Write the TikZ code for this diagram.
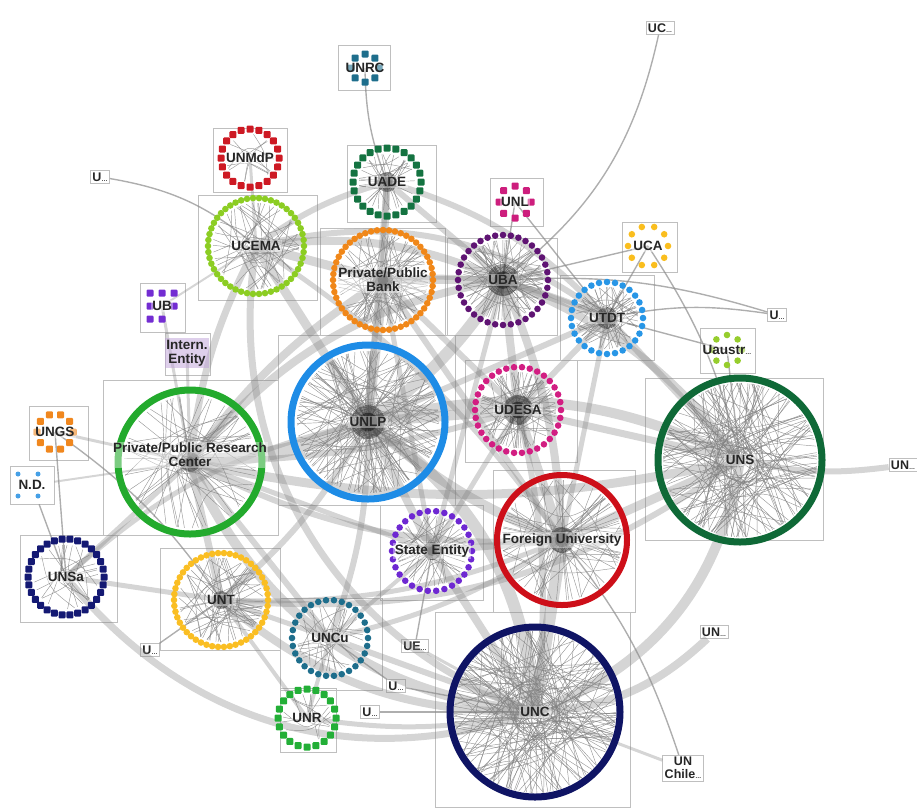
\documentclass[tikz,border=0pt]{standalone}
\usepackage{fontspec}
\setmainfont{Liberation Sans}
\definecolor{cunrc}{RGB}{30,110,140}
\definecolor{cunmdp}{RGB}{205,25,35}
\definecolor{cuade}{RGB}{20,115,65}
\definecolor{cunl}{RGB}{205,30,125}
\definecolor{cucema}{RGB}{140,205,35}
\definecolor{cbank}{RGB}{240,135,25}
\definecolor{cuba}{RGB}{95,20,115}
\definecolor{cuca}{RGB}{250,190,30}
\definecolor{cutdt}{RGB}{40,150,230}
\definecolor{cub}{RGB}{115,45,210}
\definecolor{cintern}{RGB}{190,160,215}
\definecolor{cuaustr}{RGB}{150,205,45}
\definecolor{cunlp}{RGB}{30,140,230}
\definecolor{cudesa}{RGB}{210,30,130}
\definecolor{cungs}{RGB}{240,135,30}
\definecolor{cresearch}{RGB}{35,170,45}
\definecolor{cnd}{RGB}{70,160,230}
\definecolor{cuns}{RGB}{15,105,55}
\definecolor{cforeign}{RGB}{205,15,25}
\definecolor{cstate}{RGB}{110,40,210}
\definecolor{cunsa}{RGB}{20,25,115}
\definecolor{cunt}{RGB}{250,190,35}
\definecolor{cuncu}{RGB}{30,110,140}
\definecolor{cunr}{RGB}{35,175,55}
\definecolor{cunc}{RGB}{15,20,100}
\newcommand{\trunc}{{\fontsize{6}{6}\selectfont\ldots}}
\begin{document}
\begin{tikzpicture}[x=1pt,y=-1pt,
    link/.style={draw=black!50,opacity=0.33},
    thinlink/.style={draw=black!45,opacity=0.7,line width=1.4},
    chord/.style={draw=black!50,line width=0.45,opacity=0.8},
    cbox/.style={draw=black!25,line width=0.6},
    lbl/.style={font=\bfseries\fontsize{13.5}{14}\selectfont,text=black!85,fill=white,fill opacity=0.4,text opacity=1,inner sep=1.5pt,align=center},
    sbox/.style={draw=black!25,line width=0.6,fill=white,font=\bfseries\fontsize{12.5}{13}\selectfont,text=black!85,inner sep=2pt,align=center}]
\useasboundingbox (0,0) rectangle (917,807);
\pgfmathsetseed{11}

\draw[cbox] (338,45) rectangle (390,90);
\draw[cbox] (213,128) rectangle (287,192);
\draw[cbox] (347,145) rectangle (436,222);
\draw[cbox] (490,178) rectangle (543,226);
\draw[cbox] (198,195) rectangle (317,300);
\draw[cbox] (320,228) rectangle (445,335);
\draw[cbox] (447,238) rectangle (557,335);
\draw[cbox] (622,222) rectangle (677,272);
\draw[cbox] (560,275) rectangle (654,360);
\draw[cbox] (140,283) rectangle (185,332);
\draw[cbox] (165,333) rectangle (210,375);
\draw[cbox] (700,328) rectangle (755,373);
\draw[cbox] (278,335) rectangle (455,505);
\draw[cbox] (465,360) rectangle (577,462);
\draw[cbox] (29,406) rectangle (88,460);
\draw[cbox] (103,380) rectangle (278,535);
\draw[cbox] (645,378) rectangle (823,540);
\draw[cbox] (493,470) rectangle (635,612);
\draw[cbox] (380,505) rectangle (483,600);
\draw[cbox] (20,535) rectangle (117,622);
\draw[cbox] (160,548) rectangle (280,650);
\draw[cbox] (280,598) rectangle (382,690);
\draw[cbox] (280,688) rectangle (336,752);
\draw[cbox] (435,612) rectangle (630,807);

\coordinate (unrc) at (365,68);
\coordinate (unmdp) at (250,158);
\coordinate (uade) at (387,182);
\coordinate (unl) at (515,202);
\coordinate (ucema) at (256,246);
\coordinate (bank) at (383,280);
\coordinate (uba) at (503,280);
\coordinate (uca) at (648,246);
\coordinate (utdt) at (607,318);
\coordinate (ub) at (162,306);
\coordinate (intern) at (187,353);
\coordinate (uaustr) at (727,350);
\coordinate (unlp) at (368,422);
\coordinate (udesa) at (518,410);
\coordinate (ungs) at (55,432);
\coordinate (research) at (190,462);
\coordinate (uns) at (740,460);
\coordinate (foreign) at (562,540);
\coordinate (state) at (432,551);
\coordinate (unsa) at (66,577);
\coordinate (unt) at (221,600);
\coordinate (uncu) at (330,638);
\coordinate (unr) at (307,718);
\coordinate (unc) at (535,712);

\node[sbox] (uxa) at (100,177) {U\trunc};
\node[sbox] (ucx) at (660,28) {UC\trunc};
\node[sbox] (uxb) at (777,315) {U\trunc};
\node[sbox] (unx) at (903,465) {UN\trunc};
\node[sbox] (ue) at (415,646) {UE\trunc};
\node[sbox] (uxc) at (150,650) {U\trunc};
\node[sbox] (unxb) at (714,632) {UN\trunc};
\node[sbox] (uxd) at (396,686) {U\trunc};
\node[sbox] (uxe) at (370,712) {U\trunc};
\node[sbox] (unchile) at (683,768) {UN\\Chile\trunc};
\node[sbox,minimum width=44pt,minimum height=38pt] (nd) at (32,485) {};

\draw[link,line width=14] (unlp) to[bend left=10] (research);
\draw[link,line width=12] (unlp) to[bend right=10] (uba);
\draw[link,line width=10] (unlp) to (bank);
\draw[link,line width=12] (unlp) to[bend left=25] (unc);
\draw[link,line width=10] (unlp) to[bend left=20] (uns);
\draw[link,line width=10] (unlp) to[bend right=10] (foreign);
\draw[link,line width=9] (unlp) to (ucema);
\draw[link,line width=10] (unlp) to (udesa);
\draw[link,line width=8] (unlp) to (state);
\draw[link,line width=8] (research) to[bend left=20] (uba);
\draw[link,line width=10] (research) to[bend right=30] (unc);
\draw[link,line width=9] (research) to[bend right=12] (uns);
\draw[link,line width=7] (research) to (unt);
\draw[link,line width=8] (research) to[bend left=10] (bank);
\draw[link,line width=6] (research) to[bend right=8] (udesa);
\draw[link,line width=6] (research) to[bend right=15] (foreign);
\draw[link,line width=8] (uba) to (udesa);
\draw[link,line width=7] (uba) to (utdt);
\draw[link,line width=8] (uba) to (bank);
\draw[link,line width=8] (uba) to[bend left=10] (foreign);
\draw[link,line width=8] (uba) to[bend left=15] (uns);
\draw[link,line width=8] (uba) to[bend right=15] (ucema);
\draw[link,line width=5] (uba) to (state);
\draw[link,line width=9] (udesa) to (foreign);
\draw[link,line width=7] (udesa) to (uns);
\draw[link,line width=6] (udesa) to (utdt);
\draw[link,line width=6] (udesa) to[bend left=10] (unc);
\draw[link,line width=12] (foreign) to (unc);
\draw[link,line width=9] (foreign) to (uns);
\draw[link,line width=7] (foreign) to (state);
\draw[link,line width=10] (uns) to[bend left=30] (unc);
\draw[link,line width=7] (uns) to (utdt);
\draw[link,line width=6] (uns) to[bend right=10] (unx);
\draw[link,line width=8] (unc) to[bend right=20] (unxb);
\draw[link,line width=8] (unc) to[bend left=20] (unt);
\draw[link,line width=6] (unc) to (uncu);
\draw[link,line width=5] (unc) to[bend left=10] (unr);
\draw[link,line width=7] (unc) to[bend left=35] (unsa);
\draw[link,line width=8] (unc) to (state);
\draw[link,line width=3] (unc) to (unchile);
\draw[link,line width=3] (unc) to (ue);
\draw[link,line width=5] (uncu) to (unt);
\draw[link,line width=6] (uncu) to (research);
\draw[link,line width=6] (uncu) to[bend right=10] (unlp);
\draw[link,line width=5] (uncu) to[bend right=10] (foreign);
\draw[link,line width=4] (unr) to (unt);
\draw[link,line width=4] (unr) to (uncu);
\draw[link,line width=5] (unt) to (unsa);
\draw[link,line width=6] (unt) to[bend right=20] (uns);
\draw[link,line width=6] (unt) to[bend right=10] (unlp);
\draw[link,line width=5] (unt) to[bend right=12] (foreign);
\draw[link,line width=5] (unsa) to (research);
\draw[link,line width=5] (unsa) to[bend left=15] (unlp);
\draw[link,line width=6] (ucema) to[bend left=10] (uade);
\draw[link,line width=9] (ucema) to (bank);
\draw[link,line width=7] (ucema) to[bend right=10] (research);
\draw[link,line width=7] (ucema) to[bend right=40] (unc);
\draw[link,line width=6] (ucema) to[bend left=25] (utdt);
\draw[link,line width=5] (ucema) to[bend left=10] (foreign);
\draw[link,line width=7] (bank) to (uade);
\draw[link,line width=6] (bank) to (udesa);
\draw[link,line width=6] (bank) to (foreign);
\draw[link,line width=5] (bank) to[bend left=15] (utdt);
\draw[link,line width=5] (bank) to (state);
\draw[link,line width=6] (uade) to (uba);
\draw[link,line width=6] (uade) to[bend left=15] (utdt);
\draw[link,line width=6] (uade) to (unlp);
\draw[link,line width=6] (utdt) to (unlp);
\draw[link,line width=5] (utdt) to (foreign);
\draw[link,line width=5] (state) to (research);
\draw[link,line width=5] (state) to (udesa);
\draw[link,line width=4] (state) to (uncu);
\draw[link,line width=3] (unmdp) to (ucema);
\draw[link,line width=3] (ub) to (research);
\draw[link,line width=2] (ub) to (ucema);
\draw[link,line width=3] (intern) to (research);
\draw[link,line width=3] (ungs) to (research);
\draw[link,line width=2] (nd) to (research);

\draw[thinlink] (unrc) to[bend right=10] (uade);
\draw[thinlink] (ucx) to[bend left=20] (uba);
\draw[thinlink] (uxa) to[bend left=15] (ucema);
\draw[thinlink] (uca) to (utdt);
\draw[thinlink] (uca) to[bend left=10] (uns);
\draw[thinlink] (uca) to (uba);
\draw[thinlink] (uaustr) to (uns);
\draw[thinlink] (uaustr) to (utdt);
\draw[thinlink] (uxb) to[bend right=10] (utdt);
\draw[thinlink] (uxb) to[bend right=10] (uba);
\draw[thinlink] (unl) to (uba);
\draw[thinlink] (unl) to (utdt);
\draw[thinlink] (ungs) to (unsa);
\draw[thinlink] (nd) to (unsa);
\draw[thinlink] (ungs) to[bend left=10] (unt);
\draw[thinlink] (uxc) to (unt);
\draw[thinlink] (uxd) to (unc);
\draw[thinlink] (uxe) to (unc);
\draw[thinlink] (uxd) to (uncu);
\draw[thinlink] (unchile) to[bend right=10] (foreign);
\draw[thinlink] (ue) to (state);

\foreach \c/\r/\n in {unc/81/110,uns/77/100,unlp/71/70,research/66/25,foreign/60/30,bank/45/35,ucema/43/30,uba/40/35,udesa/38/30,unt/42/30,utdt/31/25,state/35/20,uncu/33/20,uade/28/12,unsa/32/15,unmdp/24/8,unr/24/10}{
  \begin{scope}[shift={(\c)}]
    \foreach \i in {1,...,\n}{
      \pgfmathsetmacro\a{rnd*360}
      \pgfmathsetmacro\b{\a+50+rnd*260}
      \pgfmathsetmacro\k{rnd*0.7*\r}
      \draw[chord] (\a:\r) .. controls ({(\a+\b)/2}:\k) .. (\b:\r);
    }
  \end{scope}
}

\foreach \c/\r/\n/\h in {uba/40/40/16,udesa/38/35/15,unlp/71/40/17,utdt/31/25/11,foreign/60/25/13,research/66/20/10,bank/45/25/10,uade/28/15/10,state/35/20/9,unt/42/20/9}{
  \foreach \i in {1,...,\n}{
    \pgfmathsetmacro\a{rnd*360}
    \draw[chord] (\c) -- ++(\a:\r);
  }
  \fill[black,opacity=0.35] (\c) circle[radius=\h];
  \fill[black,opacity=0.45] (\c) circle[radius=0.55*\h];
}

\draw[cunlp,line width=7] (unlp) circle[radius=77];
\draw[cresearch,line width=7] (research) circle[radius=72];
\draw[cuns,line width=7] (uns) circle[radius=82];
\draw[cforeign,line width=6] (foreign) circle[radius=65];
\draw[cunc,line width=7] (unc) circle[radius=85];

\foreach \c/\r/\n/\col in {bank/50/52/cbank,ucema/48/50/cucema,unt/47/50/cunt,uba/45/36/cuba,udesa/43/34/cudesa,utdt/36/28/cutdt,state/40/30/cstate,uncu/38/30/cuncu,uca/20/10/cuca,uaustr/15/8/cuaustr}
  \foreach \i in {1,...,\n}{
    \pgfmathsetmacro\a{\i*(360/\n)}
    \fill[\col] (\c) ++(\a:\r) circle[radius=3.3];
  }

\foreach \c/\r/\n/\col in {unrc/14/8/cunrc,unmdp/29/20/cunmdp,uade/34/24/cuade,unl/16/8/cunl,ungs/18/10/cungs,unsa/38/30/cunsa,unr/29/20/cunr}
  \foreach \i in {1,...,\n}{
    \pgfmathsetmacro\a{\i*(360/\n)}
    \fill[\col,rounded corners=1] (\c) ++(\a:\r) +(-3.5,-3.5) rectangle +(3.5,3.5);
  }

\foreach \x/\y in {150/293,162/293,174/293,150/306,174/306,150/319,162/319}
  \fill[cub,rounded corners=1] (\x-3.5,\y-3.5) rectangle (\x+3.5,\y+3.5);
\foreach \x/\y in {18/474,38/474,18/496,38/496}
  \fill[cnd] (\x,\y) circle[radius=2.5];

\node[lbl] (lunrc) at (unrc) {UNRC};
\node[lbl] (lunmdp) at (unmdp) {UNMdP};
\node[lbl] (luade) at (uade) {UADE};
\node[lbl] (lunl) at (unl) {UNL};
\node[lbl] (lucema) at (ucema) {UCEMA};
\node[lbl] (lbank) at (bank) {Private/Public\\Bank};
\node[lbl] (luba) at (uba) {UBA};
\node[lbl] (luca) at (uca) {UCA};
\node[lbl] (lutdt) at (utdt) {UTDT};
\node[lbl] (lub) at (ub) {UB};
\node[lbl,fill=cintern,fill opacity=0.5] (lintern) at (intern) {Intern.\\Entity};
\node[lbl] (luaustr) at (uaustr) {Uaustr\trunc};
\node[lbl] (lunlp) at (unlp) {UNLP};
\node[lbl] (ludesa) at (udesa) {UDESA};
\node[lbl] (lungs) at (ungs) {UNGS};
\node[lbl] (lresearch) at (190,455) {Private/Public Research\\Center};
\node[lbl] (lnd) at (nd) {N.D.};
\node[lbl] (luns) at (uns) {UNS};
\node[lbl] (lforeign) at (foreign) {Foreign University};
\node[lbl] (lstate) at (state) {State Entity};
\node[lbl] (lunsa) at (unsa) {UNSa};
\node[lbl] (lunt) at (unt) {UNT};
\node[lbl] (luncu) at (uncu) {UNCu};
\node[lbl] (lunr) at (unr) {UNR};
\node[lbl] (lunc) at (unc) {UNC};
\end{tikzpicture}
\end{document}
